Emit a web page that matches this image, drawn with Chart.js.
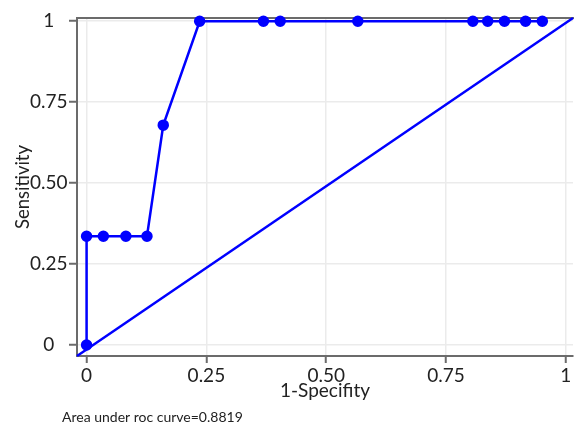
<!DOCTYPE html>
<html>
<head>
<meta charset="utf-8">
<script src="https://cdn.jsdelivr.net/npm/chart.js@4"></script>
<style>
  html, body { margin: 0; background: #fff; overflow: hidden; }
</style>
</head>
<body>
<canvas id="rocChart" width="580" height="424"></canvas>
<script>
// ROC points
const fpr = [0, 0, 0.035, 0.082, 0.126, 0.160, 0.236, 0.369, 0.404, 0.566, 0.806, 0.837, 0.872, 0.916, 0.951];
const tpr = [0, 0.336, 0.336, 0.336, 0.336, 0.679, 1, 1, 1, 1, 1, 1, 1, 1, 1];

const xTickValues = [0, 0.25, 0.5, 0.75, 1];
const xTickLabels = ["0", "0.25", "0.50", "0.75", "1"];
const yTickValues = [0, 0.25, 0.5, 0.75, 1];
const yTickLabels = ["0", "0.25", "0.50", "0.75", "1"];

const xLimits = [-0.02, 1.015];
const yLimits = [-0.034, 1.01];

// reference line runs corner to corner of the plot
const refX = [xLimits[0], xLimits[1]];
const refY = [yLimits[0], yLimits[1]];

const aucText = "Area under roc curve=0.8819";

const FONT = "Lato";
const textColor = "#222";
const axisColor = "#6b6b6b";
const gridColor = "#ebebeb";

const aucLabel = {
  id: "aucLabel",
  afterDraw(chart) {
    const ctx = chart.ctx;
    ctx.save();
    ctx.font = "14px " + FONT;
    ctx.fillStyle = textColor;
    ctx.textBaseline = "middle";
    ctx.fillText(aucText, 62, 417);
    ctx.restore();
  }
};

new Chart(document.getElementById("rocChart"), {
  type: "scatter",
  data: {
    datasets: [
      {
        data: fpr.map((x, i) => ({ x: x, y: tpr[i] })),
        showLine: true,
        borderColor: "#0000ff",
        backgroundColor: "#0000ff",
        borderWidth: 2.5,
        pointRadius: 4.5,
        pointHoverRadius: 4.5,
        clip: false
      },
      {
        data: refX.map((x, i) => ({ x: x, y: refY[i] })),
        showLine: true,
        borderColor: "#0000ff",
        borderWidth: 2.5,
        pointRadius: 0,
        clip: false
      }
    ]
  },
  options: {
    responsive: false,
    animation: false,
    layout: { padding: { top: 18, right: 0, bottom: 22, left: 0 } },
    plugins: {
      legend: { display: false },
      tooltip: { enabled: false }
    },
    scales: {
      x: {
        type: "linear",
        position: "bottom",
        min: xLimits[0],
        max: xLimits[1],
        afterBuildTicks: (s) => { s.ticks = xTickValues.map(v => ({ value: v })); },
        afterFit: (s) => { s.height = 46; },
        ticks: {
          autoSkip: false,
          maxRotation: 0,
          padding: 1,
          color: textColor,
          font: { family: FONT, size: 19 },
          callback: (v) => xTickLabels[xTickValues.indexOf(v)]
        },
        grid: { color: gridColor, lineWidth: 1.5, tickColor: axisColor, tickLength: 7, tickWidth: 2 },
        border: { color: axisColor, width: 2 },
        title: {
          display: true,
          text: "1-Specifity",
          color: textColor,
          font: { family: FONT, size: 19 },
          padding: { top: 0, bottom: 0 }
        }
      },
      xTop: {
        type: "linear",
        position: "top",
        min: xLimits[0],
        max: xLimits[1],
        afterFit: (s) => { s.height = 0; },
        ticks: { display: false },
        grid: { drawOnChartArea: false, drawTicks: false },
        border: { color: axisColor, width: 2 }
      },
      y: {
        type: "linear",
        min: yLimits[0],
        max: yLimits[1],
        afterBuildTicks: (s) => { s.ticks = yTickValues.map(v => ({ value: v })); },
        afterFit: (s) => { s.width = 77; },
        ticks: {
          autoSkip: false,
          padding: 1.5,
          crossAlign: "center",
          color: textColor,
          font: { family: FONT, size: 19 },
          callback: (v) => yTickLabels[yTickValues.indexOf(v)]
        },
        grid: { color: gridColor, lineWidth: 1.5, tickColor: axisColor, tickLength: 8, tickWidth: 2 },
        border: { color: axisColor, width: 2 },
        title: {
          display: true,
          text: "Sensitivity",
          color: textColor,
          font: { family: FONT, size: 18.5 },
          padding: { top: 12, bottom: 0 }
        }
      }
    }
  },
  plugins: [aucLabel]
});
</script>
</body>
</html>
